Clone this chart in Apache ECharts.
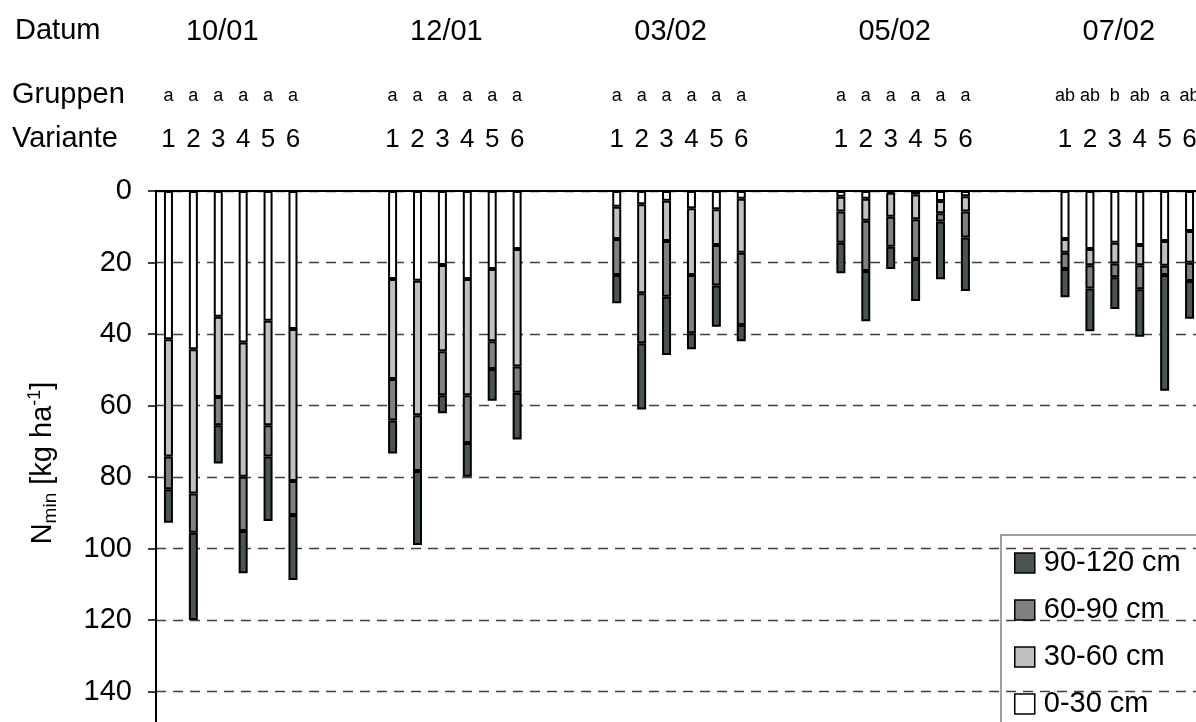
<!DOCTYPE html>
<html>
<head>
<meta charset="utf-8">
<script src="https://cdn.jsdelivr.net/npm/echarts@6/dist/echarts.min.js"></script>
<style>
  html, body { margin: 0; padding: 0; background: #fff; }
  #chart { width: 1196px; height: 722px; }
</style>
</head>
<body>
<div id="chart"></div>
<script>
// Sampling dates, variants and significance groups
const dates = ['10/01', '12/01', '03/02', '05/02', '07/02'];
const variants = ['1', '2', '3', '4', '5', '6'];
const gruppen = [
  ['a', 'a', 'a', 'a', 'a', 'a'],
  ['a', 'a', 'a', 'a', 'a', 'a'],
  ['a', 'a', 'a', 'a', 'a', 'a'],
  ['a', 'a', 'a', 'a', 'a', 'a'],
  ['ab', 'ab', 'b', 'ab', 'a', 'ab']
];
const layers = ['0-30 cm', '30-60 cm', '60-90 cm', '90-120 cm'];
const yTicks = [0, 20, 40, 60, 80, 100, 120, 140, 160];

// Nmin per soil layer [kg/ha]: one row per date, one value per variant
const n0_30 = [
  [41.5, 44.3, 35.2, 42.4, 36.3, 38.6],
  [24.6, 25.1, 20.7, 24.6, 21.8, 16.2],
  [4.4, 3.7, 2.7, 4.8, 5.1, 2.2],
  [1.6, 2.2, 0.5, 1.0, 2.8, 1.5],
  [13.4, 16.2, 14.5, 15.1, 14.0, 11.2]
];
const n30_60 = [
  [32.8, 40.3, 22.4, 37.5, 29.2, 42.5],
  [28.0, 37.6, 24.1, 32.5, 20.2, 32.9],
  [9.0, 24.9, 11.3, 18.7, 10.0, 15.1],
  [4.1, 6.1, 6.7, 6.9, 3.4, 4.2],
  [3.9, 4.6, 5.8, 5.7, 6.9, 8.9]
];
const n60_90 = [
  [9.1, 11.0, 7.9, 15.2, 8.8, 9.5],
  [11.6, 15.6, 12.3, 13.4, 7.8, 7.3],
  [10.1, 14.0, 15.6, 16.3, 11.3, 20.2],
  [8.8, 14.1, 8.4, 11.1, 2.3, 7.3],
  [4.5, 6.5, 3.8, 6.7, 2.6, 5.1]
];
const n90_120 = [
  [9.4, 24.4, 10.7, 11.8, 18.0, 18.2],
  [9.2, 20.7, 5.1, 9.4, 8.9, 13.1],
  [7.9, 18.5, 16.3, 4.5, 11.6, 4.5],
  [8.5, 14.0, 6.2, 11.8, 16.2, 15.0],
  [7.9, 11.9, 8.9, 13.3, 32.4, 10.5]
];

const FONT = '"Liberation Sans", Arial, sans-serif';
const GAP = 3;                       // empty slots between two dates
const SLOT = variants.length + GAP;  // slots per date block

// Flatten into one category axis with blank slots between the dates
const categories = [];
dates.forEach((d, di) => {
  variants.forEach(v => categories.push(d + ' / ' + v));
  if (di < dates.length - 1) for (let k = 0; k < GAP; k++) categories.push(d + ' gap ' + k);
});
function flatten(rows) {
  const out = [];
  rows.forEach((r, di) => {
    r.forEach(v => out.push(v));
    if (di < rows.length - 1) for (let k = 0; k < GAP; k++) out.push('-');
  });
  return out;
}

const layerData = [n0_30, n30_60, n60_90, n90_120];
const layerColors = ['#ffffff', '#c0c0c0', '#808080', '#4a5452'];

const series = layers.map((name, i) => ({
  name: name,
  type: 'bar',
  stack: 'nmin',
  barWidth: 9,
  data: flatten(layerData[i]),
  itemStyle: { color: layerColors[i], borderColor: '#000', borderWidth: 2 },
  emphasis: { disabled: true }
}));

const chart = echarts.init(document.getElementById('chart'), null, { renderer: 'canvas' });
chart.setOption({
  animation: false,
  backgroundColor: '#fff',
  textStyle: { fontFamily: FONT },
  grid: { left: 156, top: 191, right: -6, bottom: -41, containLabel: false, outerBoundsMode: 'none' },
  xAxis: {
    type: 'category',
    position: 'top',
    data: categories,
    axisLine: { show: true, lineStyle: { color: '#000', width: 2 } },
    axisTick: { show: false },
    axisLabel: {
      interval: 0,
      hideOverlap: false,
      margin: 31,
      color: '#000',
      formatter: function (value, index) {
        const di = Math.floor(index / SLOT), p = index % SLOT;
        if (p >= variants.length) return '';
        let s = '{g|' + gruppen[di][p] + '}\n{v|' + variants[p] + '}';
        if (p === 2) s = '{d|' + dates[di] + '}\n' + s;
        return s;
      },
      rich: {
        d: { fontSize: 29, lineHeight: 80, fontFamily: FONT, color: '#000', padding: [0, 0, 0, 8] },
        g: { fontSize: 18, lineHeight: 48, fontFamily: FONT, color: '#000' },
        v: { fontSize: 26, lineHeight: 40, fontFamily: FONT, color: '#000' }
      }
    },
    splitLine: { show: false }
  },
  yAxis: {
    type: 'value',
    inverse: true,
    min: yTicks[0],
    max: yTicks[yTicks.length - 1],
    interval: 20,
    axisLine: { show: true, lineStyle: { color: '#000', width: 2 } },
    axisTick: { show: true, length: 8, lineStyle: { color: '#000', width: 1.5 } },
    axisLabel: { fontSize: 29, color: '#000', margin: 24, fontFamily: FONT },
    splitLine: { show: true, lineStyle: { color: '#404040', width: 1.3, type: [10, 7] } }
  },
  legend: {
    data: layers.slice().reverse(),
    orient: 'vertical',
    left: 1001,
    top: 535,
    padding: [13, 4, 0, 13],
    itemWidth: 20,
    itemHeight: 20,
    itemGap: 17,
    icon: 'rect',
    selectedMode: false,
    itemStyle: { borderColor: '#000', borderWidth: 1.5 },
    textStyle: { fontSize: 29, color: '#000', lineHeight: 30, fontFamily: FONT, padding: [0, 0, 0, 4] }
  },
  graphic: [
    // legend frame, running past the right and bottom edges
    {
      type: 'rect', z: 0, silent: true,
      shape: { x: 1001, y: 535, width: 500, height: 500 },
      style: { fill: '#fff', stroke: '#808080', lineWidth: 1.5 }
    },
    { type: 'text', left: 15, top: 16, style: { text: 'Datum', font: '29px ' + FONT, fill: '#000' } },
    { type: 'text', left: 12, top: 80, style: { text: 'Gruppen', font: '29px ' + FONT, fill: '#000' } },
    { type: 'text', left: 12, top: 124, style: { text: 'Variante', font: '29px ' + FONT, fill: '#000' } },
    {
      type: 'text',
      x: 43, y: 463,
      rotation: Math.PI / 2,
      style: {
        text: '{n|N}{s|min}{n| [kg ha}{p|-1}{n|]}',
        align: 'center',
        verticalAlign: 'middle',
        fill: '#000',
        rich: {
          n: { fontSize: 29, lineHeight: 34, fontFamily: FONT, fill: '#000' },
          s: { fontSize: 19, lineHeight: 19, fontFamily: FONT, fill: '#000', verticalAlign: 'bottom' },
          p: { fontSize: 18, lineHeight: 18, fontFamily: FONT, fill: '#000', verticalAlign: 'top' }
        }
      }
    }
  ],
  series: series
});
</script>
</body>
</html>
